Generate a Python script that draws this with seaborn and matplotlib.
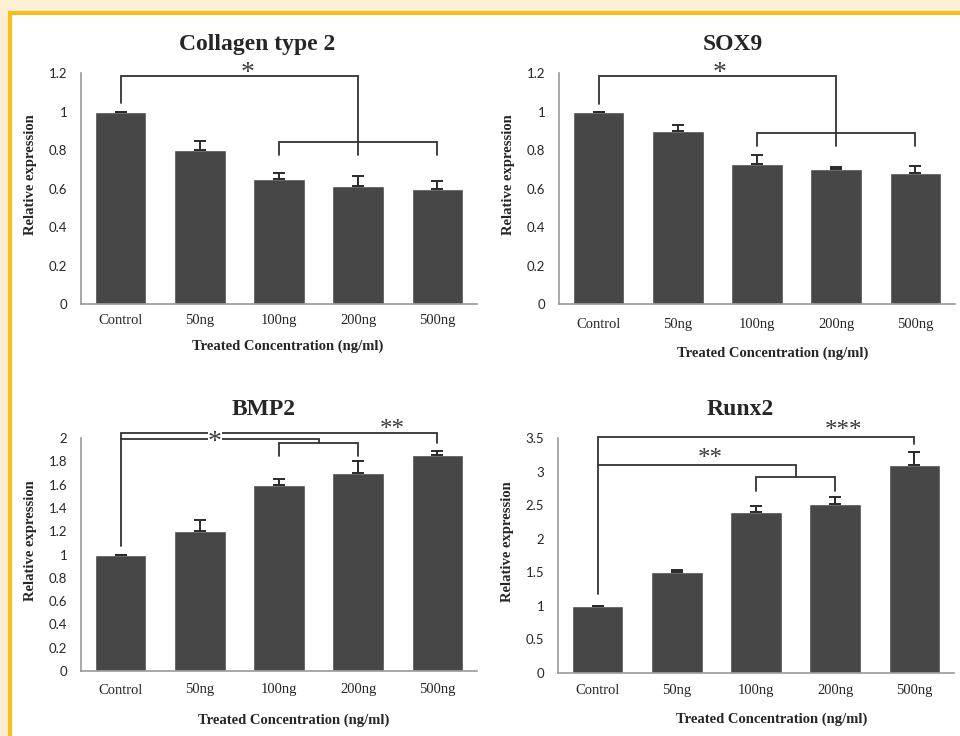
import matplotlib
matplotlib.use("Agg")
import matplotlib.pyplot as plt
from matplotlib.patches import Rectangle
from matplotlib.ticker import FuncFormatter, FixedLocator
import seaborn as sns
import pandas as pd

# ---- data ----
categories = ["Control", "50ng", "100ng", "200ng", "500ng"]

col2_mean = [1.0, 0.80, 0.65, 0.613, 0.60]
col2_err = [0.0, 0.048, 0.03, 0.05, 0.037]

sox9_mean = [1.0, 0.898, 0.728, 0.702, 0.678]
sox9_err = [0.0, 0.03, 0.047, 0.012, 0.038]

bmp2_mean = [1.0, 1.2, 1.6, 1.7, 1.85]
bmp2_err = [0.0, 0.1, 0.05, 0.1, 0.04]

runx2_mean = [1.0, 1.5, 2.4, 2.51, 3.1]
runx2_err = [0.0, 0.035, 0.09, 0.11, 0.19]

titles = ["Collagen type 2", "SOX9", "BMP2", "Runx2"]
y_max = [1.2, 1.2, 2.0, 3.5]
y_step = [0.2, 0.2, 0.2, 0.5]

BAR = "#474747"
SPINE = "#9a9a9a"
SERIF = ["Liberation Serif", "DejaVu Serif"]
SANS = ["Lato", "DejaVu Sans"]

sns.set_style("white")
plt.rcParams["font.family"] = SERIF

W, H = 960, 736
fig = plt.figure(figsize=(W / 100, H / 100), dpi=100)
fig.patch.set_facecolor("#fcefd3")
fig.patches.append(Rectangle((9.5 / W, -0.1), 1.2, (H - 12.5) / H + 0.1,
                             transform=fig.transFigure, facecolor="white",
                             edgecolor="#f4c01e", linewidth=3, zorder=-10))


def px_axes(left, right, top, bottom):
    return fig.add_axes([left / W, 1 - bottom / H, (right - left) / W, (bottom - top) / H])


axes = [
    px_axes(81, 477, 73, 304),
    px_axes(559, 955, 73, 304),
    px_axes(81, 477, 438, 671),
    px_axes(558, 954, 438, 673),
]
means = [col2_mean, sox9_mean, bmp2_mean, runx2_mean]
errs = [col2_err, sox9_err, bmp2_err, runx2_err]
title_x = [0.444, 0.44, 0.46, 0.459]
xlabel_x = [0.523, 0.54, 0.538, 0.54]
xlabel_pad = [9, 11, 12, 11]
xtick_pad = [7, 10, 9, 8]


def bracket(ax, x0, x1, y, y0_drop, y1_drop, lw=1.3):
    ax.plot([x0, x0, x1, x1], [y0_drop, y, y, y1_drop], color="#333333",
            lw=lw, clip_on=False, solid_joinstyle="miter", zorder=4)


def star(ax, x, y, text, size=20, box=False):
    kw = {}
    if box:
        kw["bbox"] = dict(facecolor="white", edgecolor="none", pad=0.3)
    ax.text(x, y, text, ha="center", va="center", fontsize=size, color="#3a3a3a",
            family=SERIF, clip_on=False, zorder=5, **kw)


for i, ax in enumerate(axes):
    ax.set_facecolor("none")
    df = pd.DataFrame({"cat": categories, "val": means[i]})
    sns.barplot(data=df, x="cat", y="val", color=BAR, saturation=1, width=0.65,
                errorbar=None, ax=ax, zorder=2)
    xs = range(len(categories))
    ax.errorbar(xs, means[i], yerr=[[0] * len(errs[i]), errs[i]], fmt="none",
                ecolor="#2a2a2a", elinewidth=1.4, capsize=4, capthick=1.4, zorder=3)

    ax.set_xlim(-0.5, 4.5)
    ax.set_ylim(0, y_max[i])
    n = int(round(y_max[i] / y_step[i]))
    ax.yaxis.set_major_locator(FixedLocator([k * y_step[i] for k in range(n + 1)]))
    ax.yaxis.set_major_formatter(FuncFormatter(lambda v, p: f"{v:g}"))
    ax.set_xticks(range(5))
    ax.set_xticks([k - 0.5 for k in range(6)], minor=True)
    ax.tick_params(axis="x", which="major", length=0, pad=xtick_pad[i], labelsize=10.5)
    ax.tick_params(axis="x", which="minor", length=4, width=1, color=SPINE, direction="out")
    ax.tick_params(axis="y", which="major", length=4, width=1, color=SPINE, direction="out",
                   pad=6, labelsize=9.5)
    for lab in ax.get_yticklabels():
        lab.set_family(SANS)
    for lab in ax.get_xticklabels():
        lab.set_family(SERIF)

    sns.despine(ax=ax)
    for s in ("left", "bottom"):
        ax.spines[s].set_color(SPINE)
        ax.spines[s].set_linewidth(1.2)

    ax.set_ylabel("Relative expression", fontsize=10.5, fontweight="bold", family=SERIF)
    ax.yaxis.set_label_coords(-0.11, 0.56)
    ax.set_xlabel("Treated Concentration (ng/ml)", fontsize=10.5, fontweight="bold",
                  family=SERIF, labelpad=xlabel_pad[i], x=xlabel_x[i])
    ax.set_title(titles[i], fontsize=17, fontweight="bold", family=SERIF, pad=16.5,
                 x=title_x[i])

# significance brackets
a = axes[0]
bracket(a, 0, 3, 1.186, 1.045, 0.776)
bracket(a, 2, 4, 0.84, 0.776, 0.776)
star(a, 1.6, 1.2, "*")

a = axes[1]
bracket(a, 0, 3, 1.183, 1.04, 0.822)
bracket(a, 2, 4, 0.888, 0.822, 0.822)
star(a, 1.53, 1.2, "*")

a = axes[2]
bracket(a, 0, 4, 2.043, 1.07, 1.957)
bracket(a, 0, 2.5, 1.994, 1.994, 1.957)
bracket(a, 2, 3, 1.957, 1.843, 1.843)
star(a, 1.19, 1.965, "*", box=True)
star(a, 3.43, 2.065, "**", size=18)

a = axes[3]
bracket(a, 0, 4, 3.515, 1.17, 3.41)
bracket(a, 0, 2.5, 3.093, 3.093, 2.92)
bracket(a, 2, 3, 2.92, 2.716, 2.716)
star(a, 1.42, 3.18, "**", size=18)
star(a, 3.11, 3.6, "***", size=18)

fig.savefig("out.png", dpi=100, facecolor=fig.get_facecolor())
